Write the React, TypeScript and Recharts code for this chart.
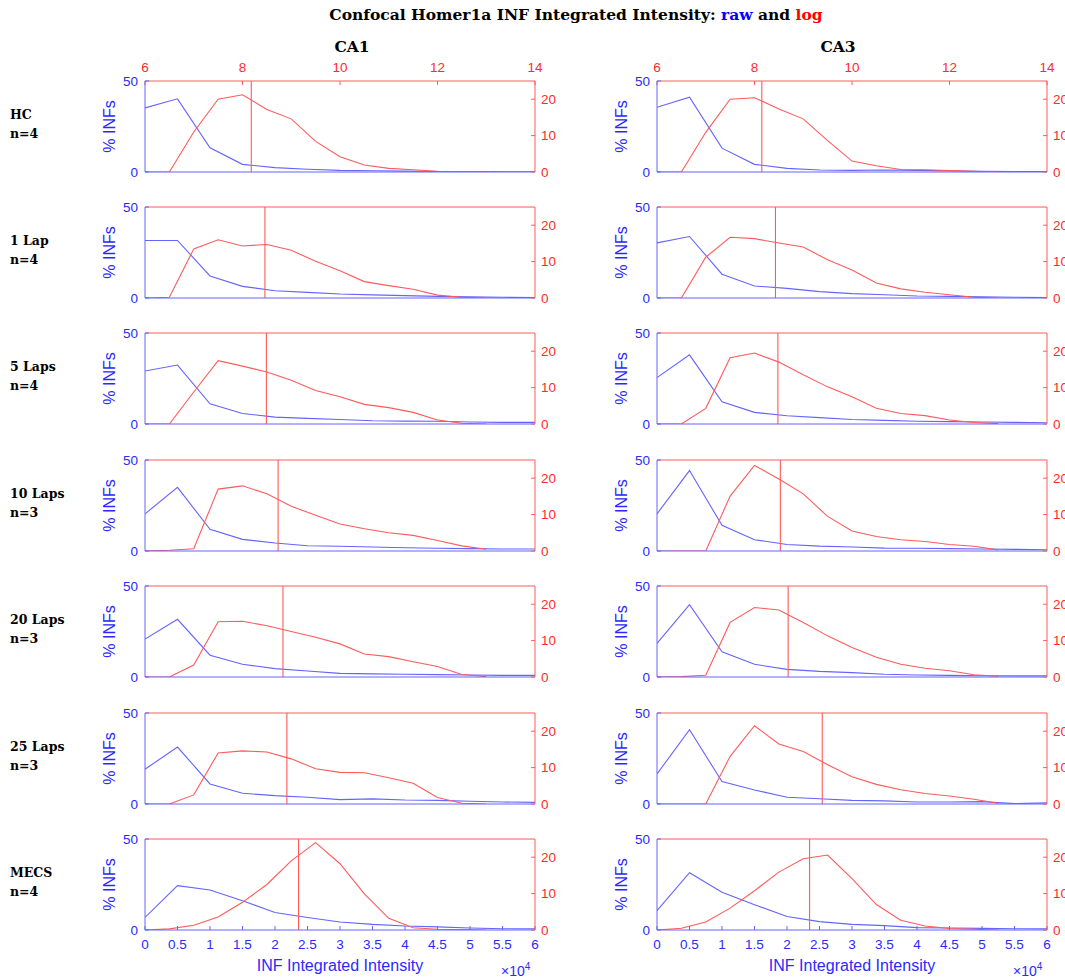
import { ComposedChart, Line, XAxis, YAxis, ReferenceLine } from "recharts";

// ──────────────────────────────────────────────
// Data
// ──────────────────────────────────────────────

const GROUPS = ["HC", "1 Lap", "5 Laps", "10 Laps", "20 Laps", "25 Laps", "MECS"];
const N_ANIMALS = [4, 4, 4, 3, 3, 3, 4];

// raw bins (x 10^4) and log bins
const RAW_BINS = [0, 0.5, 1, 1.5, 2, 2.5, 3, 3.5, 4, 4.5, 5, 5.5, 6];
const LOG_BINS = [6, 6.5, 7, 7.5, 8, 8.5, 9, 9.5, 10, 10.5, 11, 11.5, 12, 12.5, 13];

const CA1_RAW = [
  [35.2, 40.2, 13.3, 4.2, 2.4, 1.5, 0.9, 0.7, 0.5, 0.3, 0.2, 0.1, 0.1],
  [31.6, 31.6, 12.1, 6.4, 4.0, 3.1, 2.2, 1.7, 1.3, 0.9, 0.6, 0.4, 0.2],
  [29.1, 32.4, 11.1, 5.8, 3.8, 3.1, 2.5, 1.8, 1.6, 1.5, 1.1, 0.9, 0.9],
  [20.4, 35.0, 11.9, 6.4, 4.4, 2.9, 2.6, 2.2, 1.8, 1.5, 1.3, 1.1, 1.1],
  [20.8, 31.7, 12.0, 7.0, 4.6, 3.3, 2.0, 1.7, 1.5, 1.3, 1.1, 0.9, 0.9],
  [19.1, 31.3, 11.0, 5.9, 4.6, 3.7, 2.4, 2.8, 2.2, 2.0, 1.5, 1.1, 0.9],
  [6.9, 24.4, 22.0, 16.1, 9.6, 6.9, 4.4, 3.1, 2.2, 1.7, 1.1, 0.7, 0.6],
];

const CA1_LOG = [
  [0, 0, 11.0, 20.0, 21.2, 17.2, 14.6, 8.4, 4.2, 1.9, 1.0, 0.6, 0.2, 0.1, 0],
  [0, 0.2, 13.5, 16.0, 14.3, 14.7, 13.1, 10.1, 7.5, 4.5, 3.4, 2.4, 0.8, 0.2, 0],
  [0, 0, 8.8, 17.4, 15.9, 14.3, 12.0, 9.2, 7.5, 5.4, 4.5, 3.2, 1.1, 0.2, 0],
  [0, 0.2, 0.6, 17.0, 17.9, 15.7, 12.3, 9.8, 7.4, 6.1, 5.0, 4.3, 2.9, 1.4, 0.5],
  [0, 0, 3.3, 15.2, 15.3, 14.1, 12.5, 10.9, 9.1, 6.3, 5.6, 4.2, 2.9, 0.7, 0.1],
  [0, 0, 2.5, 14.0, 14.6, 14.3, 12.4, 9.7, 8.7, 8.6, 7.2, 5.7, 1.8, 0.2, 0],
  [0, 0.3, 1.3, 3.6, 7.6, 12.5, 19.0, 24.0, 18.2, 9.9, 3.2, 0.6, 0.2, 0.1, 0],
];

const CA1_MEAN = [8.18, 8.46, 8.49, 8.73, 8.83, 8.91, 9.15];

const CA3_RAW = [
  [35.6, 41.1, 13.1, 4.2, 2.0, 1.1, 0.9, 1.1, 0.9, 0.6, 0.4, 0.2, 0.2],
  [30.3, 33.8, 13.1, 6.6, 5.3, 3.5, 2.4, 1.8, 1.1, 0.9, 0.7, 0.4, 0.2],
  [25.5, 38.0, 12.2, 6.4, 4.5, 3.5, 2.5, 2.0, 1.5, 1.3, 1.1, 0.9, 0.7],
  [20.4, 44.2, 14.1, 6.2, 3.6, 2.7, 2.2, 1.6, 1.5, 1.3, 1.1, 0.9, 0.7],
  [18.5, 39.7, 13.8, 7.0, 4.2, 3.1, 2.4, 1.5, 1.1, 0.9, 0.7, 0.6, 0.6],
  [16.5, 40.8, 12.3, 7.7, 3.7, 2.9, 2.0, 1.7, 1.1, 1.1, 1.3, 0.2, 0.6],
  [10.6, 31.5, 20.7, 13.9, 7.4, 4.6, 3.1, 2.4, 1.3, 1.1, 0.9, 0.7, 0.6],
];

const CA3_LOG = [
  [0, 0, 10.9, 20.0, 20.4, 17.3, 14.6, 8.6, 3.0, 1.7, 0.7, 0.6, 0.4, 0.2, 0],
  [0, 0, 11.2, 16.7, 16.3, 15.1, 14.0, 10.5, 7.7, 4.1, 2.5, 1.6, 0.9, 0.2, 0],
  [0, 0, 4.3, 18.2, 19.5, 17.0, 13.5, 10.2, 7.5, 4.3, 2.9, 2.3, 1.1, 0.4, 0.1],
  [0, 0, 0, 15.1, 23.5, 19.8, 15.7, 9.5, 5.5, 4.0, 3.1, 2.6, 1.8, 1.3, 0.3],
  [0, 0.1, 0.5, 15.0, 19.1, 18.4, 15.0, 11.3, 8.1, 5.4, 3.5, 2.4, 1.7, 0.6, 0.2],
  [0, 0, 0, 13.1, 21.5, 16.5, 14.4, 10.8, 7.5, 5.4, 3.9, 2.9, 2.2, 1.3, 0.2],
  [0, 0.5, 2.2, 6.0, 10.8, 15.9, 19.6, 20.6, 14.1, 7.0, 2.7, 1.1, 0.4, 0.2, 0],
];

const CA3_MEAN = [8.15, 8.43, 8.48, 8.53, 8.69, 9.39, 9.13];

const TOP_TICKS = [6, 8, 10, 12, 14];
const BOTTOM_TICKS = [0, 0.5, 1, 1.5, 2, 2.5, 3, 3.5, 4, 4.5, 5, 5.5, 6];

// ──────────────────────────────────────────────
// Layout / style
// ──────────────────────────────────────────────

const BLUE = "#2a2aff";
const BLUE_LINE = "#6464ff";
const RED = "#ff2a2a";
const RED_LINE = "#ff5a5a";
const SANS = "'Liberation Sans', Arial, sans-serif";
const SERIF = "'DejaVu Serif', Georgia, serif";

const PW = 390;
const PH = 91;
const AL = 60;
const AR = 50;
const AT = 30;
const AB = 30;
const COL_LEFT = [145, 657];
const ROW_TOP = [81, 207, 333, 460, 586, 713, 839];
const TICK = -4;

type PanelProps = {
  left: number;
  top: number;
  raw: number[];
  log: number[];
  mean: number;
  first: boolean;
  last: boolean;
};

function Panel({ left, top, raw, log, mean, first, last }: PanelProps) {
  const rawPts = RAW_BINS.map((b, i) => ({ x: b * 10000, v: raw[i] }));
  const logPts = LOG_BINS.map((b, i) => ({ x: b, v: log[i] }));
  const tickStyle = (fill: string) => ({ fill, fontSize: 13.5, fontFamily: SANS });

  return (
    <div style={{ position: "absolute", left: left - AL, top: top - AT }}>
      <ComposedChart
        width={AL + PW + AR}
        height={AT + PH + AB}
        margin={{ top: 0, right: 0, bottom: 0, left: 0 }}
      >
        <XAxis
          xAxisId="raw"
          type="number"
          dataKey="x"
          orientation="bottom"
          domain={[0, 60000]}
          ticks={last ? BOTTOM_TICKS.map((t) => t * 10000) : [10000, 20000, 30000, 40000, 50000]}
          interval={0}
          height={AB}
          stroke={BLUE_LINE}
          tickSize={TICK}
          tickMargin={13}
          tick={last ? tickStyle(BLUE) : false}
          tickFormatter={(v: number) => String(v / 10000)}
          allowDataOverflow
        />
        <XAxis
          xAxisId="log"
          type="number"
          dataKey="x"
          orientation="top"
          domain={[6, 14]}
          ticks={first ? TOP_TICKS : [8, 10, 12]}
          interval={0}
          height={AT}
          stroke={RED_LINE}
          tickSize={TICK}
          tickMargin={13}
          tick={first ? tickStyle(RED) : false}
          allowDataOverflow
        />
        <YAxis
          yAxisId="left"
          type="number"
          domain={[0, 50]}
          ticks={[0, 50]}
          interval={0}
          width={AL}
          stroke={BLUE_LINE}
          tickSize={TICK}
          tickMargin={11}
          tick={tickStyle(BLUE)}
          label={{
            value: "% INFs",
            angle: -90,
            position: "center",
            dx: -6,
            fill: BLUE,
            fontSize: 16,
            fontFamily: SANS,
          }}
          allowDataOverflow
        />
        <YAxis
          yAxisId="right"
          orientation="right"
          type="number"
          domain={[0, 25]}
          ticks={[0, 10, 20]}
          interval={0}
          width={AR}
          stroke={RED_LINE}
          tickSize={TICK}
          tickMargin={10}
          tick={tickStyle(RED)}
          allowDataOverflow
        />
        <Line
          data={rawPts}
          dataKey="v"
          xAxisId="raw"
          yAxisId="left"
          stroke={BLUE_LINE}
          strokeWidth={1.1}
          dot={false}
          isAnimationActive={false}
        />
        <Line
          data={logPts}
          dataKey="v"
          xAxisId="log"
          yAxisId="right"
          stroke={RED_LINE}
          strokeWidth={1.1}
          dot={false}
          isAnimationActive={false}
        />
        <ReferenceLine
          x={mean}
          xAxisId="log"
          yAxisId="right"
          stroke={RED_LINE}
          strokeWidth={1.1}
        />
      </ComposedChart>
    </div>
  );
}

const abs = (left: number, top: number, extra: React.CSSProperties = {}): React.CSSProperties => ({
  position: "absolute",
  left,
  top,
  whiteSpace: "nowrap",
  ...extra,
});

export default function App() {
  const regions = [
    { raw: CA1_RAW, log: CA1_LOG, mean: CA1_MEAN },
    { raw: CA3_RAW, log: CA3_LOG, mean: CA3_MEAN },
  ];

  return (
    <div
      style={{
        position: "absolute",
        left: 0,
        top: 0,
        width: 1065,
        height: 979,
        overflow: "hidden",
        background: "#fff",
      }}
    >
      {/* ── Titles ── */}
      <div
        style={abs(576, 5, {
          transform: "translateX(-50%)",
          fontFamily: SERIF,
          fontWeight: 700,
          fontSize: 15.5,
          color: "#000",
        })}
      >
        Confocal Homer1a INF Integrated Intensity: <span style={{ color: "#0000ff" }}>raw</span> and{" "}
        <span style={{ color: "#ff0000" }}>log</span>
      </div>
      <div style={abs(352, 37, { transform: "translateX(-50%)", fontFamily: SERIF, fontWeight: 700, fontSize: 15.5 })}>
        CA1
      </div>
      <div style={abs(838, 37, { transform: "translateX(-50%)", fontFamily: SERIF, fontWeight: 700, fontSize: 15.5 })}>
        CA3
      </div>

      {/* ── Row labels ── */}
      {GROUPS.map((g, i) => (
        <div
          key={g}
          style={abs(10, ROW_TOP[i] + PH / 2 - 22, {
            fontFamily: SERIF,
            fontWeight: 700,
            fontSize: 12.5,
            lineHeight: "19px",
          })}
        >
          {g}
          <br />
          n={N_ANIMALS[i]}
        </div>
      ))}

      {/* ── Panels ── */}
      {regions.map((r, c) =>
        GROUPS.map((g, i) => (
          <Panel
            key={`${c}-${g}`}
            left={COL_LEFT[c]}
            top={ROW_TOP[i]}
            raw={r.raw[i]}
            log={r.log[i]}
            mean={r.mean[i]}
            first={i === 0}
            last={i === GROUPS.length - 1}
          />
        ))
      )}

      {/* ── X labels ── */}
      {COL_LEFT.map((l) => (
        <div key={`xl-${l}`}>
          <div
            style={abs(l + PW / 2, 957, {
              transform: "translateX(-50%)",
              fontFamily: SANS,
              fontSize: 16,
              color: BLUE,
            })}
          >
            INF Integrated Intensity
          </div>
          <div style={abs(l + PW - 34, 961, { fontFamily: SANS, fontSize: 14, color: BLUE })}>
            ×10<sup style={{ fontSize: 10 }}>4</sup>
          </div>
        </div>
      ))}
    </div>
  );
}
